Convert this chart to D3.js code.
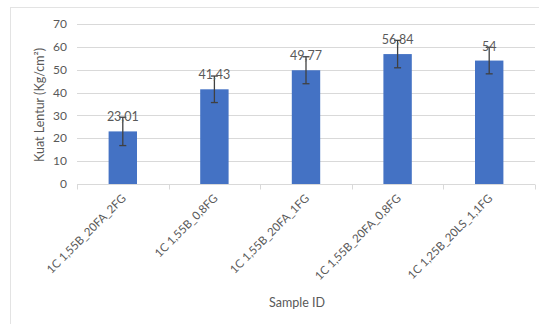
<!DOCTYPE html>
<html><head><meta charset="utf-8">
<script src="https://cdn.jsdelivr.net/npm/d3@7"></script>
<style>body{margin:0;background:#fff}svg{display:block}</style>
</head><body>
<script>
const categories = ["1C 1,55B_20FA_2FG","1C 1,55B_0,8FG","1C 1,55B_20FA_1FG","1C 1,55B_20FA_0,8FG","1C 1,25B_20LS_1,1FG"];
const values = [23.01, 41.43, 49.77, 56.84, 54];
const valueLabels = ["23,01","41,43","49,77","56,84","54"];
const errors = [6.2, 5.8, 5.9, 6.0, 5.8];
const yTicks = [0,10,20,30,40,50,60,70];

const W=539,H=324;
const m={left:77,right:4,top:24,bottom:140};
const svg=d3.select("body").append("svg").attr("width",W).attr("height",H);
const font="Lato, 'Open Sans', sans-serif";
const gray="#595959";

svg.append("rect").attr("x",10.5).attr("y",7.5).attr("width",W).attr("height",H)
  .attr("fill","none").attr("stroke","#e3e3e3");

const x=d3.scaleBand().domain(categories).range([m.left,W-m.right]).paddingInner(0.69).paddingOuter(0.345);
const y=d3.scaleLinear().domain([0,70]).range([H-m.bottom,m.top]);

// grid
svg.append("g").selectAll("line").data(yTicks.slice(1)).join("line")
  .attr("x1",m.left).attr("x2",W-m.right).attr("y1",d=>Math.round(y(d))+0.5).attr("y2",d=>Math.round(y(d))+0.5)
  .attr("stroke","#d9d9d9");

// y axis labels
svg.append("g").selectAll("text").data(yTicks).join("text")
  .attr("x",67).attr("y",d=>y(d)).attr("dy","0.35em").attr("text-anchor","end")
  .attr("font-family",font).attr("font-size",12).attr("fill",gray).text(d=>d);

// x axis
const xAxis=svg.append("g").attr("transform",`translate(0,${Math.round(y(0))+0.5})`);
xAxis.append("line").attr("x1",m.left).attr("x2",W-m.right).attr("stroke","#d9d9d9");
const bounds=d3.range(categories.length+1).map(i=>m.left+i*(W-m.right-m.left)/categories.length);
xAxis.selectAll("line.t").data(bounds).join("line").attr("class","t")
  .attr("x1",d=>Math.round(d)+0.5).attr("x2",d=>Math.round(d)+0.5).attr("y1",0).attr("y2",5).attr("stroke","#d9d9d9");

// bars
svg.append("g").selectAll("rect").data(values).join("rect")
  .attr("x",(d,i)=>x(categories[i])).attr("width",x.bandwidth())
  .attr("y",d=>y(d)).attr("height",d=>y(0)-y(d)).attr("fill","#4472c4");

// error bars
const eb=svg.append("g").attr("stroke","#404040").attr("stroke-width",1.3);
values.forEach((v,i)=>{
  const cx=x(categories[i])+x.bandwidth()/2;
  eb.append("line").attr("x1",cx).attr("x2",cx).attr("y1",y(v+errors[i])).attr("y2",y(v-errors[i]));
  eb.append("line").attr("x1",cx-3.5).attr("x2",cx+3.5).attr("y1",y(v+errors[i])).attr("y2",y(v+errors[i]));
  eb.append("line").attr("x1",cx-3.5).attr("x2",cx+3.5).attr("y1",y(v-errors[i])).attr("y2",y(v-errors[i]));
});

// value labels
svg.append("g").selectAll("text").data(values).join("text")
  .attr("x",(d,i)=>x(categories[i])+x.bandwidth()/2).attr("y",d=>y(d)-10)
  .attr("text-anchor","middle").attr("font-family",font).attr("font-size",12.5).attr("fill",gray)
  .text((d,i)=>valueLabels[i]);

// x labels
svg.append("g").selectAll("text").data(categories).join("text")
  .attr("transform",d=>`translate(${x(d)+x.bandwidth()/2+4},${y(0)+15}) rotate(-45)`)
  .attr("text-anchor","end").attr("font-family",font).attr("font-size",11.5).attr("fill",gray).text(d=>d);

// axis titles
svg.append("text").attr("x",297).attr("y",307).attr("text-anchor","middle")
  .attr("font-family",font).attr("font-size",12.5).attr("fill",gray).text("Sample ID");
svg.append("text").attr("transform","translate(44,105) rotate(-90)").attr("text-anchor","middle")
  .attr("font-family",font).attr("font-size",12.5).attr("fill",gray).text("Kuat Lentur (Kg/cm²)");
</script>
</body></html>
